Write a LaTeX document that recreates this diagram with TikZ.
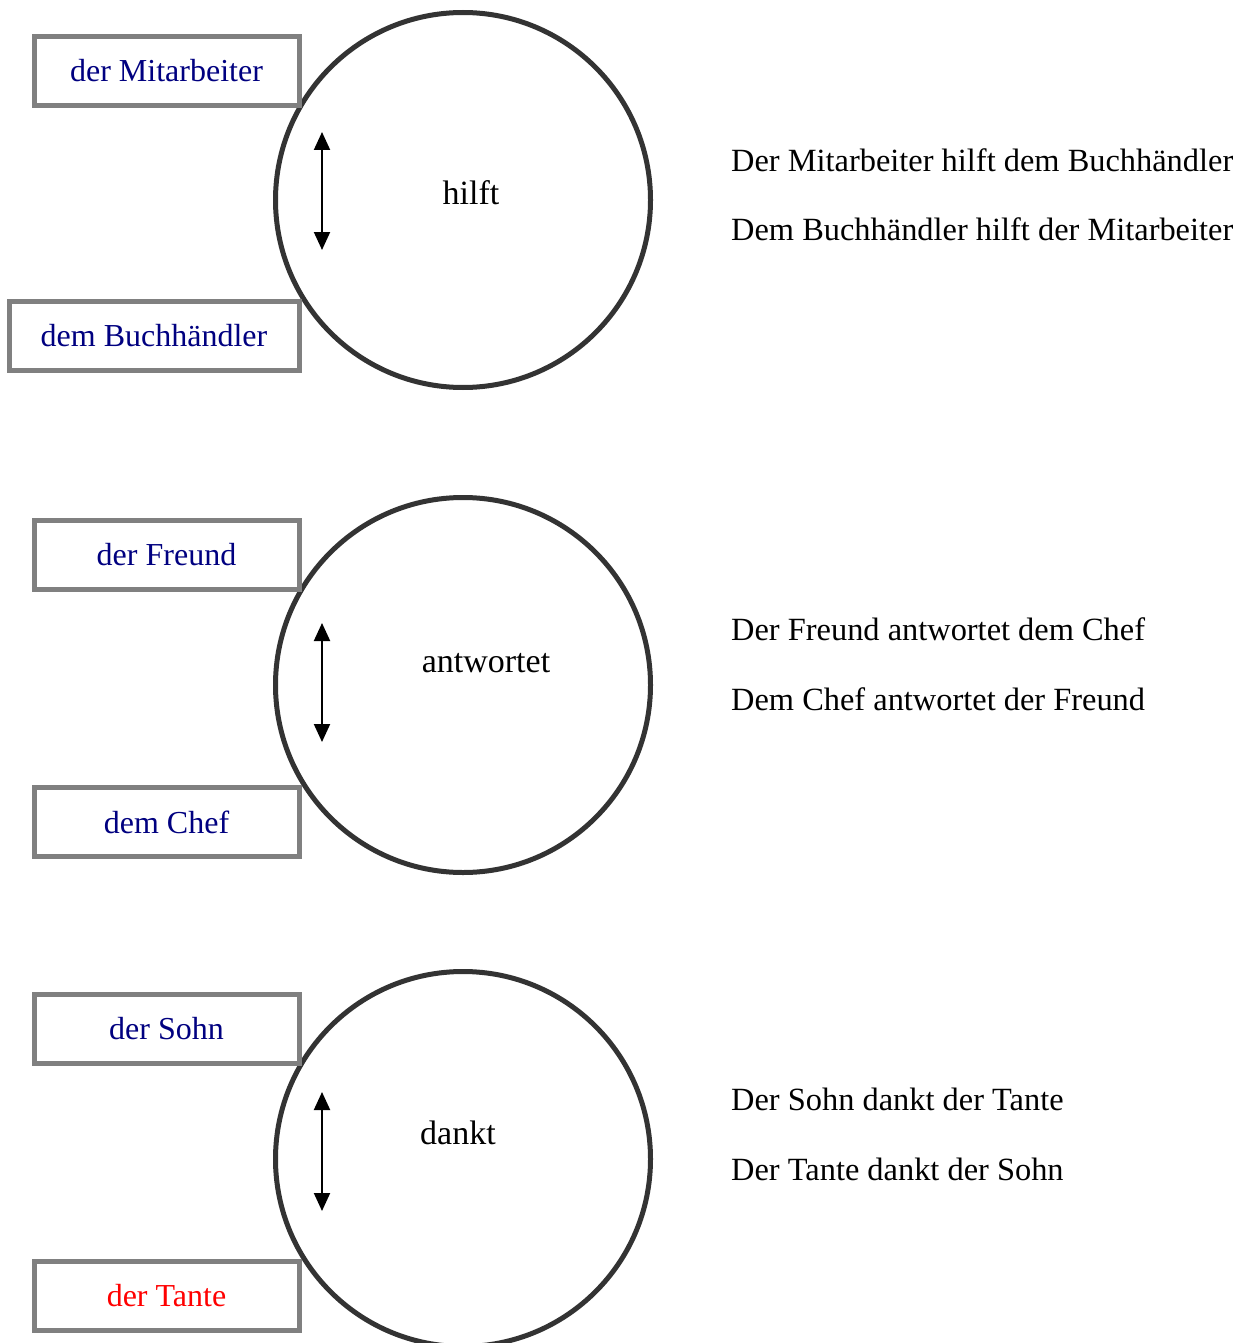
\documentclass[tikz,border=0pt]{standalone}
\usepackage{fontspec}
\setmainfont{Liberation Serif}
\usetikzlibrary{arrows.meta}

\definecolor{boxblue}{HTML}{000080}
\definecolor{ringgray}{HTML}{333333}
\definecolor{framegray}{HTML}{808080}

\tikzset{
  verbring/.style={circle, draw=ringgray, line width=5pt, minimum size=375pt, inner sep=0pt},
  casebox/.style={rectangle, draw=framegray, fill=white, line width=5pt, minimum height=69pt, inner sep=0pt, text=boxblue, font=\fontsize{32}{37}\selectfont},
  verb/.style={font=\fontsize{34}{40}\selectfont},
  sentence/.style={anchor=west, inner sep=0pt, font=\fontsize{32.4}{38}\selectfont},
  swap/.style={{Triangle[length=18pt,width=16pt]}-{Triangle[length=18pt,width=16pt]}, line width=2pt}
}

\begin{document}
\begin{tikzpicture}[x=1pt, y=-1pt]
\useasboundingbox (0,0) rectangle (1253,1343);

% hilft
\node[verbring] (c1) at (463,200) {};
\node[verb] (v1) at (471,193) {hilft};
\node[casebox, minimum width=265pt] (1) at (166.5,71) {der Mitarbeiter};
\node[casebox, minimum width=290pt] (2) at (154,335.5) {dem Buchhändler};
\coordinate (t1) at (322,132);
\coordinate (b1) at (322,250);
\draw[swap] (t1) -- (b1);
\node[sentence] (s1) at (731,160) {Der Mitarbeiter hilft dem Buchhändler};
\node[sentence] (s2) at (731,229) {Dem Buchhändler hilft der Mitarbeiter};

% antwortet
\node[verbring] (c2) at (463,685) {};
\node[verb] (v2) at (486,663) {antwortet};
\node[casebox, minimum width=265pt] (3) at (166.5,555) {der Freund};
\node[casebox, minimum width=265pt] (4) at (166.5,822) {dem Chef};
\coordinate (t2) at (322,623);
\coordinate (b2) at (322,742);
\draw[swap] (t2) -- (b2);
\node[sentence] (s3) at (731,629) {Der Freund antwortet dem Chef};
\node[sentence] (s4) at (731,699) {Dem Chef antwortet der Freund};

% dankt
\node[verbring] (c3) at (463,1159) {};
\node[verb] (v3) at (458,1133) {dankt};
\node[casebox, minimum width=265pt] (5) at (166.5,1029) {der Sohn};
\node[casebox, minimum width=265pt, text=red] (6) at (166.5,1296) {der Tante};
\coordinate (t3) at (322,1092);
\coordinate (b3) at (322,1211);
\draw[swap] (t3) -- (b3);
\node[sentence] (s5) at (731,1099) {Der Sohn dankt der Tante};
\node[sentence] (s6) at (731,1169) {Der Tante dankt der Sohn};
\end{tikzpicture}
\end{document}
